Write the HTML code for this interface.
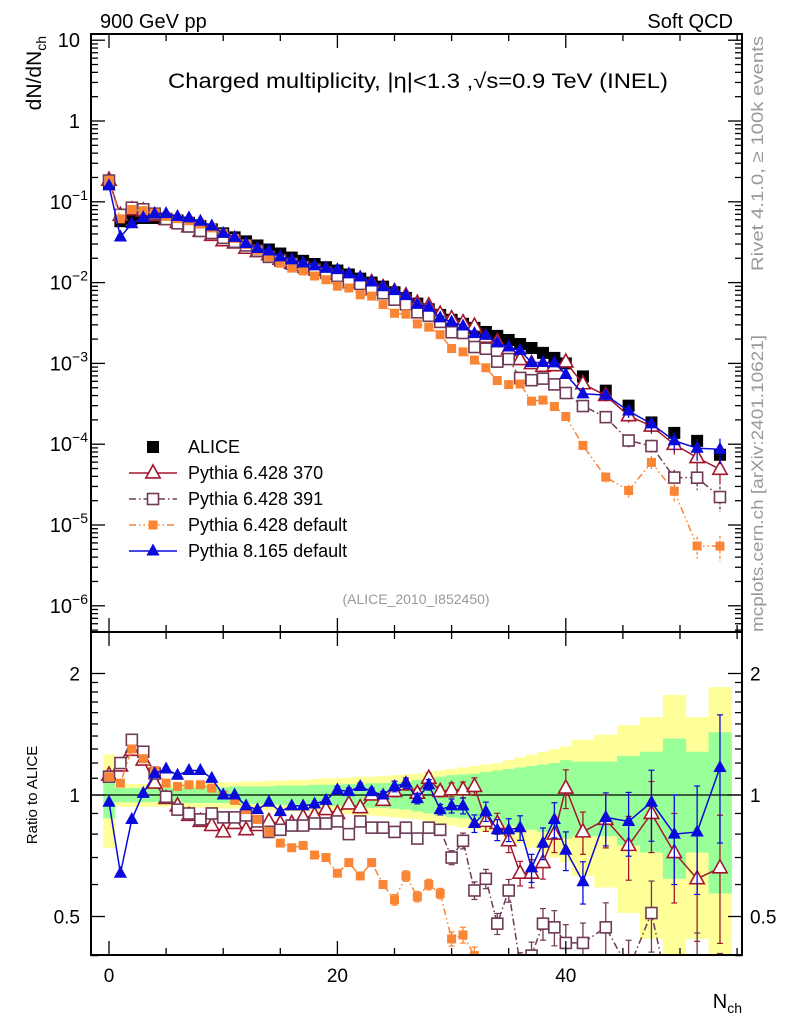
<!DOCTYPE html>
<html><head><meta charset="utf-8"><title>Charged multiplicity</title>
<style>
html,body{margin:0;padding:0;background:#fff;overflow:hidden;width:786px;height:1024px;}
svg{display:block;font-family:"Liberation Sans",sans-serif;overflow:hidden;}
</style></head>
<body>
<svg id="chart" width="786" height="1024" viewBox="0 0 786 1024" xmlns="http://www.w3.org/2000/svg">
<defs>
<clipPath id="clipTop"><rect x="91" y="34" width="651" height="598"/></clipPath>
<clipPath id="clipRat"><rect x="91" y="632" width="651" height="323"/></clipPath>
</defs>
<g id="bands" clip-path="url(#clipRat)"></g>
<g id="topMarks" clip-path="url(#clipTop)"></g>
<g id="ratMarks" clip-path="url(#clipRat)"></g>
<g id="axes"></g>

<text x="100" y="28" font-size="20">900 GeV pp</text>
<text x="733" y="28" font-size="20" text-anchor="end">Soft QCD</text>
<text x="418" y="88" font-size="21" text-anchor="middle" textLength="500" lengthAdjust="spacingAndGlyphs">Charged multiplicity, |η|&lt;1.3 ,√s=0.9 TeV (INEL)</text>
<text transform="translate(41,36) rotate(-90)" font-size="21" text-anchor="end">dN/dN<tspan font-size="14" dy="5">ch</tspan></text>
<text transform="translate(37,795) rotate(-90)" font-size="15" text-anchor="middle">Ratio to ALICE</text>
<text x="742" y="1008" font-size="20" text-anchor="end">N<tspan font-size="14" dy="5">ch</tspan></text>
<text transform="translate(763,36) rotate(-90)" font-size="17" fill="#999" text-anchor="end" textLength="235" lengthAdjust="spacingAndGlyphs">Rivet 4.1.0, ≥ 100k events</text>
<text transform="translate(763,632) rotate(-90)" font-size="17" fill="#999" text-anchor="start" textLength="297" lengthAdjust="spacingAndGlyphs">mcplots.cern.ch [arXiv:2401.10621]</text>
<text x="416" y="604" font-size="14" fill="#999" text-anchor="middle">(ALICE_2010_I852450)</text>
<g id="legend"></g>
</svg>
<script>
const nch = [0,1,2,3,4,5,6,7,8,9,10,11,12,13,14,15,16,17,18,19,20,21,22,23,24,25,26,27,28,29,30,31,32,33,34,35,36,37,38,39,40,41.5,43.5,45.5,47.5,49.5,51.5,53.5];
const binHalf = [0.5,0.5,0.5,0.5,0.5,0.5,0.5,0.5,0.5,0.5,0.5,0.5,0.5,0.5,0.5,0.5,0.5,0.5,0.5,0.5,0.5,0.5,0.5,0.5,0.5,0.5,0.5,0.5,0.5,0.5,0.5,0.5,0.5,0.5,0.5,0.5,0.5,0.5,0.5,0.5,0.5,1,1,1,1,1,1,1];
const alice = [0.165,0.0575,0.0617,0.0631,0.0631,0.0617,0.0589,0.0550,0.0501,0.0457,0.0407,0.0363,0.0324,0.0288,0.0257,0.0229,0.0204,0.0186,0.0170,0.0155,0.0141,0.0126,0.0112,0.0100,0.00891,0.00759,0.00646,0.00550,0.00468,0.00398,0.00347,0.00309,0.00275,0.00245,0.00219,0.00195,0.00174,0.00155,0.00135,0.00117,0.00100,6.9e-4,4.6e-4,3.0e-4,1.86e-4,1.38e-4,1.10e-4,7.4e-5];
const ratio370 = [1.12,1.18,1.29,1.22,1.07,0.98,0.94,0.89,0.86,0.84,0.81,0.85,0.82,0.84,0.86,0.85,0.85,0.88,0.89,0.92,0.90,0.95,0.93,1.00,0.97,1.02,1.06,1.01,1.10,1.02,1.03,1.03,1.05,0.86,0.85,0.77,0.64,0.64,0.68,0.80,1.04,0.81,0.87,0.75,0.90,0.72,0.62,0.66];
const ratio391 = [1.11,1.20,1.37,1.28,1.13,0.99,0.92,0.90,0.87,0.90,0.88,0.88,0.89,0.86,0.81,0.82,0.84,0.84,0.85,0.85,0.86,0.80,0.86,0.83,0.83,0.81,0.83,0.78,0.83,0.82,0.70,0.77,0.58,0.62,0.48,0.58,0.38,0.40,0.48,0.47,0.43,0.43,0.47,0.37,0.51,0.28,0.35,0.30];
const ratioP6def = [1.11,1.07,1.30,1.23,1.15,1.07,1.05,1.06,1.06,1.04,1.00,0.97,0.92,0.87,0.81,0.76,0.74,0.75,0.71,0.70,0.64,0.68,0.63,0.68,0.60,0.55,0.63,0.56,0.60,0.57,0.44,0.45,0.40,0.36,0.28,0.28,0.32,0.22,0.26,0.25,0.22,0.14,0.085,0.089,0.32,0.19,0.05,0.074];
const ratioP8 = [0.96,0.64,0.87,1.01,1.13,1.16,1.12,1.15,1.15,1.10,1.00,1.00,0.94,0.92,0.96,0.91,0.94,0.94,0.95,0.97,1.03,1.02,1.05,1.02,1.00,1.05,1.07,0.98,1.06,0.92,0.94,0.94,0.85,0.91,0.82,0.82,0.83,0.66,0.76,0.87,0.73,0.61,0.88,0.86,0.96,0.80,0.81,1.17];
const relErr = [0.01,0.01,0.01,0.01,0.01,0.01,0.01,0.01,0.01,0.01,0.01,0.01,0.01,0.01,0.01,0.01,0.01,0.01,0.01,0.01,0.02,0.02,0.02,0.02,0.02,0.03,0.03,0.03,0.03,0.03,0.04,0.045,0.05,0.055,0.06,0.065,0.07,0.08,0.09,0.10,0.11,0.12,0.15,0.18,0.20,0.25,0.30,0.35];
const yellowHalf = [0.26,0.065,0.065,0.065,0.065,0.065,0.07,0.07,0.07,0.07,0.075,0.075,0.08,0.08,0.085,0.085,0.09,0.09,0.095,0.10,0.10,0.105,0.11,0.11,0.115,0.12,0.125,0.13,0.14,0.15,0.16,0.17,0.18,0.19,0.20,0.22,0.24,0.26,0.28,0.30,0.32,0.37,0.41,0.49,0.56,0.77,0.56,0.85];
const greenHalf = [0.125,0.04,0.04,0.04,0.04,0.04,0.04,0.045,0.045,0.045,0.045,0.05,0.05,0.05,0.05,0.055,0.055,0.055,0.06,0.06,0.06,0.065,0.065,0.07,0.07,0.075,0.08,0.09,0.10,0.11,0.12,0.125,0.13,0.14,0.15,0.16,0.17,0.18,0.19,0.20,0.22,0.21,0.21,0.25,0.28,0.38,0.28,0.43];
const xTickLabels = [0,20,40];
const topTickLabels = [1,0,-1,-2,-3,-4,-5,-6];
const ratioTickLabels = [0.5,1,2];

const NS = "http://www.w3.org/2000/svg";
const X0 = 91, X1 = 742, TOP0 = 34, TOP1 = 632, RAT1 = 955;
function xs(n){ return 109 + 11.42*n; }
function yTop(v){ return 121 - 80.8*Math.log10(v); }
function yRat(r){ return 795 - 121.5*Math.log2(r); }
function mk(tag, attrs, parent){
  const e = document.createElementNS(NS, tag);
  for (const k in attrs) e.setAttribute(k, attrs[k]);
  parent.appendChild(e); return e;
}
const axes = document.getElementById('axes');
const bands = document.getElementById('bands');
const topG = document.getElementById('topMarks');
const ratG = document.getElementById('ratMarks');

nch.forEach((n,i)=>{
  const xa = xs(n-binHalf[i]), xb = xs(n+binHalf[i]);
  const y = mk('rect',{x:xa,y:yRat(1+yellowHalf[i]),width:xb-xa+0.4,height:yRat(Math.max(1-yellowHalf[i],0.05))-yRat(1+yellowHalf[i]),fill:'#ffff99'},bands);
  
  
});
nch.forEach((n,i)=>{
  const xa = xs(n-binHalf[i]), xb = xs(n+binHalf[i]);
  const g = mk('rect',{x:xa,y:yRat(1+greenHalf[i]),width:xb-xa+0.4,height:yRat(1-greenHalf[i])-yRat(1+greenHalf[i]),fill:'#99ff99'},bands);
  
  
});
const one = mk('line',{x1:X0,x2:X1,y1:yRat(1),y2:yRat(1),stroke:'#000','stroke-width':1.2},bands);



function marker(type, cx, cy, s, color, parent){
  let e;
  if (type==='sqF' || type==='sqO'){
    e = mk('rect',{x:cx-s/2,y:cy-s/2,width:s,height:s,fill:type==='sqF'?color:'#fff',stroke:color,'stroke-width':type==='sqF'?0:1.6},parent);
  } else {
    const pts = `${cx},${cy-s*0.62} ${cx-s*0.55},${cy+s*0.38} ${cx+s*0.55},${cy+s*0.38}`;
    e = mk('polygon',{points:pts,fill:type==='triF'?color:'#fff',stroke:color,'stroke-width':type==='triF'?0:1.6},parent);
  }
  return e;
}

nch.forEach((n,i)=>{
  const e = marker('sqF', xs(n), yTop(alice[i]), 12, '#000', topG);
  
  
});

const series = [
  {name:'pythia-6428-370', r:ratio370, color:'#a3172d', type:'triO', size:13, dash:''},
  {name:'pythia-6428-391', r:ratio391, color:'#6e3a55', type:'sqO', size:11, dash:'7,3,1.5,3'},
  {name:'pythia-6428-default', r:ratioP6def, color:'#f98535', type:'sqF', size:9, dash:'7,3,1.5,3,1.5,3'},
  {name:'pythia-8165-default', r:ratioP8, color:'#0a0adc', type:'triF', size:12, dash:''}
];
series.forEach(s=>{
  const topPts = nch.map((n,i)=>[xs(n), yTop(alice[i]*s.r[i])]);
  const ratPts = nch.map((n,i)=>[xs(n), yRat(s.r[i])]);
  const l1 = mk('polyline',{points:topPts.map(p=>p.join(',')).join(' '),fill:'none',stroke:s.color,'stroke-width':1.5,'stroke-dasharray':s.dash},topG);
  
  
  const l2 = mk('polyline',{points:ratPts.map(p=>p.join(',')).join(' '),fill:'none',stroke:s.color,'stroke-width':1.5,'stroke-dasharray':s.dash},ratG);
  
  
  nch.forEach((n,i)=>{
    const v = alice[i]*s.r[i], e = relErr[i];
    if (e > 0.015){
      const eb = mk('line',{x1:xs(n),x2:xs(n),y1:yTop(v*(1+e)),y2:yTop(Math.max(v*(1-e),1e-9)),stroke:s.color,'stroke-width':1.3,'stroke-dasharray':s.dash?'3,2':''},topG);
      
      
      const er = mk('line',{x1:xs(n),x2:xs(n),y1:yRat(s.r[i]*(1+e)),y2:yRat(Math.max(s.r[i]*(1-e),0.01)),stroke:s.color,'stroke-width':1.3},ratG);
      
      
      [s.r[i]*(1+e), s.r[i]*(1-e)].forEach(rv=>{
        const c = mk('line',{x1:xs(n)-3,x2:xs(n)+3,y1:yRat(rv),y2:yRat(rv),stroke:s.color,'stroke-width':1.2},ratG);
        
        
      });
    }
    const m1 = marker(s.type, xs(n), yTop(v), s.size, s.color, topG);
    
    
    const m2 = marker(s.type, xs(n), yRat(s.r[i]), s.size, s.color, ratG);
    
    
  });
});

[[TOP0,TOP1],[TOP1,RAT1]].forEach(([a,b],k)=>{
  const f = mk('rect',{x:X0,y:a,width:X1-X0,height:b-a,fill:'none',stroke:'#000','stroke-width':2},axes);
  
  
});
function tick(x1,y1,x2,y2,name){
  const t = mk('line',{x1,y1,x2,y2,stroke:'#000','stroke-width':1.3},axes);
  
  
}
for (let n=0;n<=55;n+=5){
  const L = (n%20===0)?14:7, x=xs(n);
  tick(x,TOP0,x,TOP0+L,'x-tick'); tick(x,TOP1,x,TOP1-L,'x-tick');
  tick(x,TOP1,x,TOP1+L,'x-tick'); tick(x,RAT1,x,RAT1-L,'x-tick');
}
xTickLabels.forEach(v=>{
  const t = mk('text',{x:xs(v),y:982,'font-size':19,'text-anchor':'middle'},axes);
  t.textContent = v;
  
  
});
for (let d=-7; d<=1; d++){
  for (let m=1;m<=9;m++){
    const v = m*Math.pow(10,d), y=yTop(v);
    if (y<TOP0||y>TOP1) continue;
    const L = m===1?14:7;
    tick(X0,y,X0+L,y,'y-tick'); tick(X1,y,X1-L,y,'y-tick');
  }
}
topTickLabels.forEach(p=>{
  const y = yTop(Math.pow(10,p));
  const t = mk('text',{x:80,y:y+7,'font-size':20,'text-anchor':'end'},axes);
  if (p===1) t.textContent='10';
  else if (p===0) t.textContent='1';
  else { t.textContent='10'; const s=mk('tspan',{'font-size':14,dy:-9},t); s.textContent='−'+(-p); t.setAttribute('x',88); }
  
  
});
[0.4,0.5,0.6,0.7,0.8,0.9,1,1.1,1.2,1.3,1.4,1.5,1.6,1.7,1.8,1.9,2].forEach(v=>{
  const y=yRat(v); const L=(v===0.5||v===1||v===2)?14:7;
  tick(X0,y,X0+L,y,'ratio-y-tick'); tick(X1,y,X1-L,y,'ratio-y-tick');
});
ratioTickLabels.forEach(v=>{
  const y=yRat(v);
  const a = mk('text',{x:80,y:y+7,'font-size':19,'text-anchor':'end'},axes);
  a.textContent=v;
  
  
  const b = mk('text',{x:750,y:y+7,'font-size':19,'text-anchor':'start'},axes);
  b.textContent=v;
  
  
});

const leg = document.getElementById('legend');
const legNames = ['ALICE','Pythia 6.428 370','Pythia 6.428 391','Pythia 6.428 default','Pythia 8.165 default'];
const legY = [447,473,499,525,551];
legNames.forEach((nm,i)=>{
  const g = mk('g',{},leg);
  
  
  const y = legY[i];
  if (i===0){
    marker('sqF',153,y,12,'#000',g);
  } else {
    const s = series[i-1];
    mk('line',{x1:129,x2:177,y1:y,y2:y,stroke:s.color,'stroke-width':1.5,'stroke-dasharray':s.dash},g);
    marker(s.type,153,y,s.size,s.color,g);
  }
  const t = mk('text',{x:188,y:y+6,'font-size':18},g);
  t.textContent = nm;
});
</script>
</body></html>
